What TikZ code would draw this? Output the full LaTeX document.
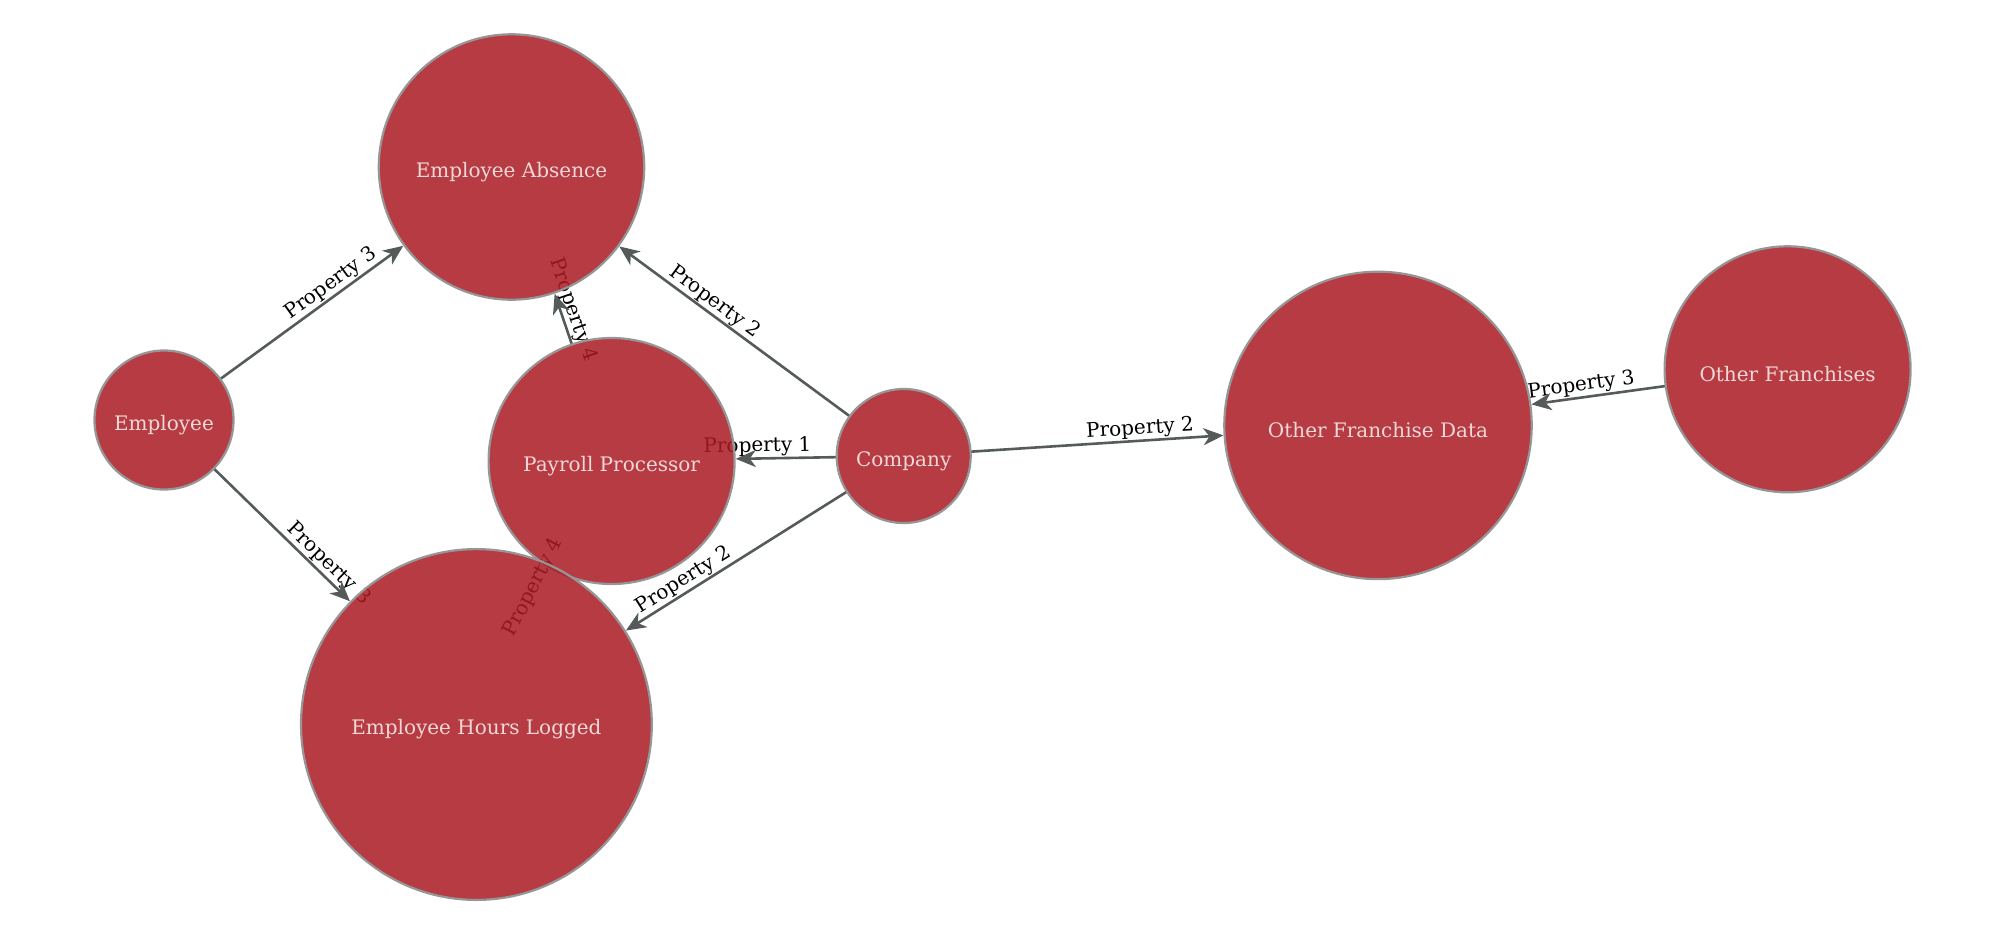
\documentclass[tikz,border=0pt]{standalone}
\usepackage{fontspec}
\setmainfont{DejaVu Serif}
\usetikzlibrary{arrows.meta}
\definecolor{nodefill}{RGB}{170,27,35}
\definecolor{nodeborder}{RGB}{150,150,150}
\definecolor{nodetext}{RGB}{240,216,216}
\definecolor{edgecol}{RGB}{85,90,90}
\newcommand{\ntxt}[1]{\raisebox{-5pt}[\height][\depth]{#1}}
\tikzset{
  ent/.style={circle, draw=nodeborder, line width=2.2pt, fill=nodefill, fill opacity=0.86, text opacity=1, text=nodetext, inner sep=0pt, font=\fontsize{20}{24}\selectfont},
  rel/.style={draw=edgecol, line width=2.6pt, -{Stealth[length=20pt,width=17pt,inset=6pt]}, shorten >=1pt},
  lbl/.style={midway, sloped, above, inner sep=2pt, text=black, font=\fontsize{20}{24}\selectfont}
}
\begin{document}
\begin{tikzpicture}[x=1pt,y=-1pt]
\useasboundingbox (0,0) rectangle (2000,930);
% centers
\coordinate (cAbs) at (511.5,167);
\coordinate (cEmp) at (164,420);
\coordinate (cPay) at (611.6,461);
\coordinate (cCom) at (903.7,456);
\coordinate (cHrs) at (476.4,724.5);
\coordinate (cOFD) at (1378,425.4);
\coordinate (cOF) at (1787.6,369.3);
% labels (drawn beneath nodes)
\path (cEmp) -- (cAbs) node[lbl] {Property 3};
\path (cEmp) -- (cHrs) node[lbl] {Property 3};
\path (cPay) -- (cAbs) node[lbl] {Property 4};
\path (cHrs) -- (cPay) node[lbl] {Property 4};
\path (cCom) -- (cPay) node[lbl] {Property 1};
\path (cCom) -- (cAbs) node[lbl] {Property 2};
\path (cCom) -- (cHrs) node[lbl] {Property 2};
\path (cCom) -- (cOFD) node[lbl] {Property 2};
\path (cOF) -- (cOFD) node[lbl] {Property 3};
% node geometry (invisible) for edge endpoints
\node[circle, inner sep=0pt, minimum size=265.4pt] (gAbs) at (cAbs) {};
\node[circle, inner sep=0pt, minimum size=139pt] (gEmp) at (cEmp) {};
\node[circle, inner sep=0pt, minimum size=246pt] (gPay) at (cPay) {};
\node[circle, inner sep=0pt, minimum size=134pt] (gCom) at (cCom) {};
\node[circle, inner sep=0pt, minimum size=350.8pt] (gHrs) at (cHrs) {};
\node[circle, inner sep=0pt, minimum size=307.4pt] (gOFD) at (cOFD) {};
\node[circle, inner sep=0pt, minimum size=246pt] (gOF) at (cOF) {};
% edges
\draw[rel] (gEmp) -- (gAbs);
\draw[rel] (gEmp) -- (gHrs);
\draw[rel] (gPay) -- (gAbs);
\draw[rel] (gCom) -- (gPay);
\draw[rel] (gCom) -- (gAbs);
\draw[rel] (gCom) -- (gHrs);
\draw[rel] (gCom) -- (gOFD);
\draw[rel] (gOF) -- (gOFD);
% nodes
\node[ent, minimum size=265.4pt] (abs) at (cAbs) {\ntxt{Employee Absence}};
\node[ent, minimum size=139pt] (emp) at (cEmp) {\ntxt{Employee}};
\node[ent, minimum size=246pt] (pay) at (cPay) {\ntxt{Payroll Processor}};
\node[ent, minimum size=134pt] (com) at (cCom) {\ntxt{Company}};
\node[ent, minimum size=350.8pt] (hrs) at (cHrs) {\ntxt{Employee Hours Logged}};
\node[ent, minimum size=307.4pt] (ofd) at (cOFD) {\ntxt{Other Franchise Data}};
\node[ent, minimum size=246pt] (of) at (cOF) {\ntxt{Other Franchises}};
\end{tikzpicture}
\end{document}
